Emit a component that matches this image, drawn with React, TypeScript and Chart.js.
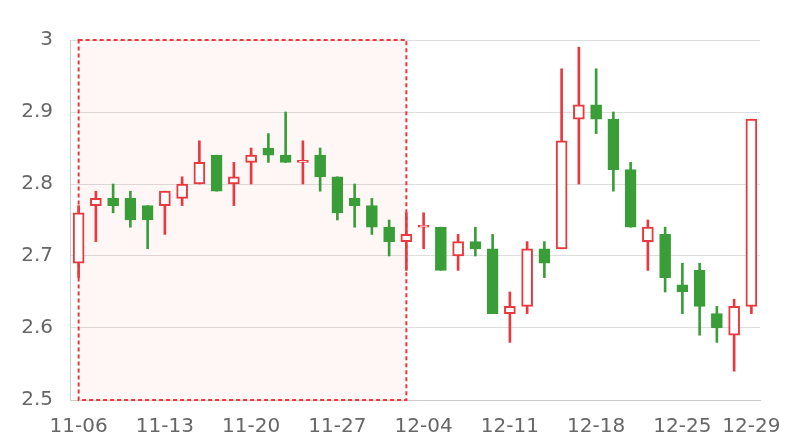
import React, { useEffect, useRef } from "react";
import { Chart, registerables } from "chart.js";

Chart.register(...registerables);

const dates = [
  "11-06", "11-07", "11-08", "11-09", "11-10",
  "11-13", "11-14", "11-15", "11-16", "11-17",
  "11-20", "11-21", "11-22", "11-23", "11-24",
  "11-27", "11-28", "11-29", "11-30", "12-01",
  "12-04", "12-05", "12-06", "12-07", "12-08",
  "12-11", "12-12", "12-13", "12-14", "12-15",
  "12-18", "12-19", "12-20", "12-21", "12-22",
  "12-25", "12-26", "12-27", "12-28", "12-29",
];

const openV = [
  2.69, 2.77, 2.78, 2.78, 2.77, 2.77, 2.78, 2.80, 2.84, 2.80,
  2.83, 2.85, 2.84, 2.83, 2.84, 2.81, 2.78, 2.77, 2.74, 2.72,
  2.74, 2.74, 2.70, 2.72, 2.71, 2.62, 2.63, 2.71, 2.71, 2.89,
  2.91, 2.89, 2.82, 2.72, 2.73, 2.66, 2.68, 2.62, 2.59, 2.63,
];
const closeV = [
  2.76, 2.78, 2.77, 2.75, 2.75, 2.79, 2.80, 2.83, 2.79, 2.81,
  2.84, 2.84, 2.83, 2.83, 2.81, 2.76, 2.77, 2.74, 2.72, 2.73,
  2.74, 2.68, 2.72, 2.71, 2.62, 2.63, 2.71, 2.69, 2.86, 2.91,
  2.89, 2.82, 2.74, 2.74, 2.67, 2.65, 2.63, 2.60, 2.63, 2.89,
];
const highV = [
  2.77, 2.79, 2.80, 2.79, 2.77, 2.79, 2.81, 2.86, 2.84, 2.83,
  2.85, 2.87, 2.90, 2.86, 2.85, 2.81, 2.80, 2.78, 2.75, 2.76,
  2.76, 2.74, 2.73, 2.74, 2.73, 2.65, 2.72, 2.72, 2.96, 2.99,
  2.96, 2.90, 2.83, 2.75, 2.74, 2.69, 2.69, 2.63, 2.64, 2.89,
];
const lowV = [
  2.67, 2.72, 2.76, 2.74, 2.71, 2.73, 2.77, 2.80, 2.79, 2.77,
  2.80, 2.83, 2.83, 2.80, 2.79, 2.75, 2.74, 2.73, 2.70, 2.68,
  2.71, 2.68, 2.68, 2.70, 2.62, 2.58, 2.62, 2.67, 2.71, 2.80,
  2.87, 2.79, 2.74, 2.68, 2.65, 2.62, 2.59, 2.58, 2.54, 2.62,
];

const tickLabels = ["11-06", "11-13", "11-20", "11-27", "12-04", "12-11", "12-18", "12-25", "12-29"];
const markStart = "11-06";
const markEnd = "12-01";

const UP = "#e8393e";
const DOWN = "#3a9e38";
const FONT = "'DejaVu Sans', sans-serif";

export default function App() {
  const ref = useRef<HTMLCanvasElement | null>(null);

  useEffect(() => {
    if (!ref.current) return;
    const isUp = dates.map((_, i) => closeV[i] >= openV[i]);

    const markAreaPlugin = {
      id: "markArea",
      beforeDatasetsDraw(chart: any) {
        const { ctx, scales } = chart;
        const xs = scales.x;
        const ys = scales.y;
        const x0 = xs.getPixelForValue(dates.indexOf(markStart));
        const x1 = xs.getPixelForValue(dates.indexOf(markEnd));
        const y0 = ys.getPixelForValue(ys.max);
        const y1 = ys.getPixelForValue(ys.min);
        ctx.save();
        ctx.fillStyle = "rgba(255,80,80,0.05)";
        ctx.fillRect(x0, y0, x1 - x0, y1 - y0);
        ctx.setLineDash([4, 3]);
        ctx.lineWidth = 2;
        ctx.strokeStyle = UP;
        ctx.strokeRect(x0, y0, x1 - x0, y1 - y0);
        ctx.restore();
      },
    };

    const chart = new Chart(ref.current, {
      type: "bar",
      data: {
        labels: dates,
        datasets: [
          {
            label: "wick",
            data: dates.map((_, i) => [lowV[i], highV[i]]) as any,
            backgroundColor: isUp.map((u) => (u ? UP : DOWN)),
            borderWidth: 0,
            barThickness: 2,
            grouped: false,
            order: 2,
          },
          {
            label: "body",
            data: dates.map((_, i) => [openV[i], closeV[i]]) as any,
            backgroundColor: isUp.map((u) => (u ? "#ffffff" : DOWN)),
            borderColor: isUp.map((u) => (u ? UP : DOWN)),
            borderWidth: 2,
            borderSkipped: false,
            barThickness: 11,
            minBarLength: 2,
            grouped: false,
            order: 1,
          },
        ],
      },
      options: {
        responsive: false,
        animation: false,
        layout: { padding: { left: 0, right: 40, top: 40, bottom: 0 } },
        plugins: {
          legend: { display: false },
          tooltip: { enabled: false },
        },
        scales: {
          x: {
            type: "category",
            offset: true,
            grid: {
              offset: true,
              drawTicks: false,
              color: (c: any) =>
                c.index === 0 || c.index === dates.length ? "#cccccc" : "rgba(0,0,0,0)",
            },
            border: { display: true, color: "#cccccc" },
            ticks: {
              autoSkip: false,
              maxRotation: 0,
              padding: 15,
              color: "#666666",
              font: { family: FONT, size: 20 },
              callback: (_v: any, i: number) => (tickLabels.includes(dates[i]) ? dates[i] : ""),
            },
            afterFit: (s: any) => {
              s.height = 40;
            },
          },
          y: {
            min: 2.5,
            max: 3.0,
            grid: { color: "#dddddd", drawTicks: false },
            border: { display: true, color: "#cccccc" },
            ticks: {
              stepSize: 0.1,
              padding: 17,
              color: "#666666",
              font: { family: FONT, size: 20 },
              callback: (v: any) => String(Math.round(Number(v) * 10) / 10),
            },
            afterFit: (s: any) => {
              s.width = 70;
            },
          },
        },
      },
      plugins: [markAreaPlugin],
    });
    return () => chart.destroy();
  }, []);

  return (
    <div style={{ position: "fixed", left: 0, top: 0, width: 800, height: 440, background: "#ffffff" }}>
      <canvas ref={ref} width={800} height={440} style={{ display: "block" }} />
    </div>
  );
}
